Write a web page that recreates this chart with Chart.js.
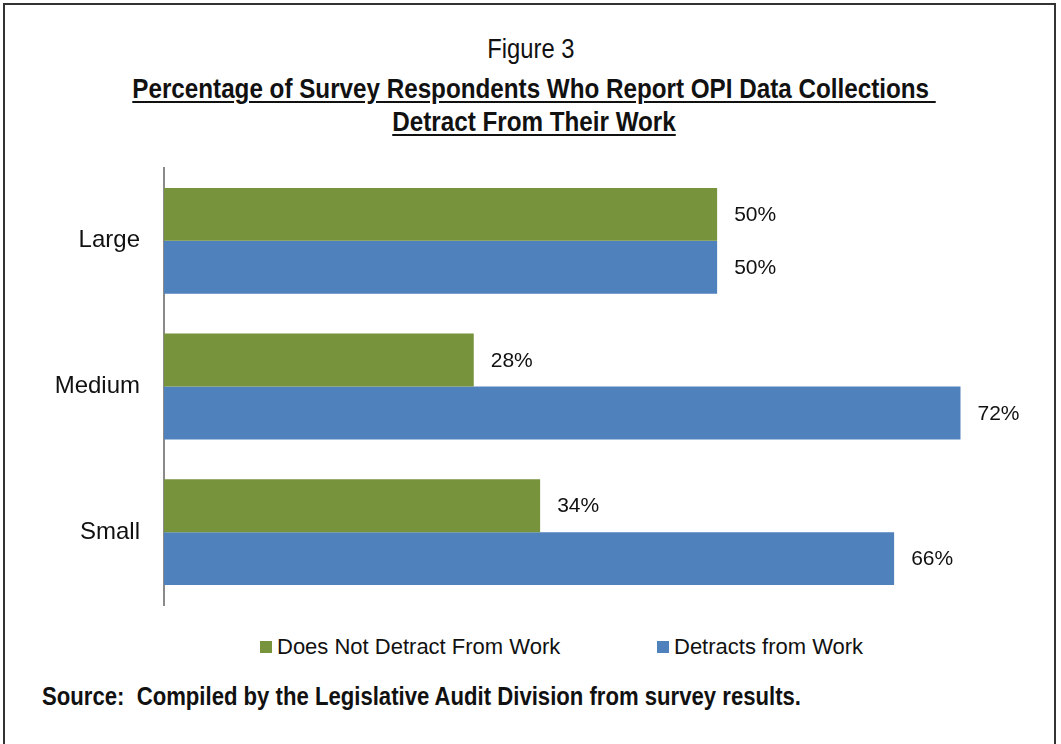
<!DOCTYPE html>
<html>
<head>
<meta charset="utf-8">
<script src="https://cdn.jsdelivr.net/npm/chart.js@4.4.1/dist/chart.umd.min.js"></script>
<style>
  html, body { margin: 0; padding: 0; background: #fff; overflow: hidden; }
  body { width: 1061px; height: 744px; position: relative; font-family: 'Liberation Sans', Arial, sans-serif; }
  .frame { position: absolute; left: 3px; top: 3px; width: 1053px; height: 760px; border: 2px solid #333; box-sizing: border-box; }
  .fig { position: absolute; left: 0; width: 1061px; top: 34px; text-align: center; font-size: 27px; color: #111; line-height: 30px;
         transform: scaleX(0.88); transform-origin: 534px 0; }
  .ttl { position: absolute; left: 0; width: 1068px; top: 72px; text-align: center; font-weight: bold; font-size: 28px;
         color: #111; line-height: 33px; text-decoration: underline; text-underline-offset: 3px;
         transform: scaleX(0.865); transform-origin: 534px 0; }
  .chart-box { position: absolute; left: 0; top: 150px; width: 1061px; height: 470px; }
  .legend { position: absolute; top: 633px; left: 0; width: 1061px; height: 30px; }
  .legend .item { position: absolute; top: 0; display: flex; align-items: center; font-size: 22px; color: #111; line-height: 28px; white-space: nowrap; }
  .legend .box { width: 12px; height: 12px; margin-right: 5px; }
  .source { position: absolute; left: 42px; top: 682px; font-weight: bold; font-size: 25px; color: #111; white-space: pre;
            transform: scaleX(0.885); transform-origin: 0 0; }
</style>
</head>
<body>
<div class="frame"></div>
<div class="fig">Figure 3</div>
<div class="ttl">Percentage of Survey Respondents Who Report OPI Data Collections&nbsp;<br>Detract From Their Work</div>
<div class="chart-box"><canvas id="grafica" width="1061" height="470"></canvas></div>
<div class="legend" id="leyenda"></div>
<div class="source">Source:  Compiled by the Legislative Audit Division from survey results.</div>

<script>
/* ---------- datos ---------- */
const categorias = ['Large', 'Medium', 'Small'];
const noDetrae = [50, 28, 34];
const detrae = [50, 72, 66];
const nombresSeries = ['Does Not Detract From Work', 'Detracts from Work'];
const coloresSeries = ['#77933C', '#4F81BD'];

/* ---------- etiquetas de valor al final de cada barra ---------- */
const etiquetasValor = {
  id: 'etiquetasValor',
  afterDatasetsDraw(chart) {
    const ctx = chart.ctx;
    ctx.save();
    ctx.font = '21px "Liberation Sans", Arial, sans-serif';
    ctx.fillStyle = '#111';
    ctx.textAlign = 'left';
    ctx.textBaseline = 'middle';
    chart.data.datasets.forEach((ds, i) => {
      chart.getDatasetMeta(i).data.forEach((bar, j) => {
        ctx.fillText(ds.data[j] + '%', bar.x + 17, bar.y + 1);
      });
    });
    ctx.restore();
  }
};

const chart = new Chart(document.getElementById('grafica'), {
  type: 'bar',
  data: {
    labels: categorias,
    datasets: [
      { label: nombresSeries[0], data: noDetrae, backgroundColor: coloresSeries[0] },
      { label: nombresSeries[1], data: detrae, backgroundColor: coloresSeries[1] },
    ],
  },
  options: {
    indexAxis: 'y',
    responsive: false,
    animation: false,
    categoryPercentage: 0.727,
    barPercentage: 1.0,
    layout: { padding: { top: 18, bottom: 15, left: 0, right: 12 } },
    plugins: {
      legend: { display: false },
      tooltip: { enabled: false },
    },
    scales: {
      x: { display: false, min: 0, max: 80 },
      y: {
        grid: { display: false, drawTicks: false },
        border: { display: true, color: '#8a8a8a', width: 2 },
        ticks: { color: '#111', padding: 24, font: { size: 24, family: '"Liberation Sans", Arial, sans-serif' } },
        afterFit(axis) {
          axis.width = 164;
          axis.paddingTop = 0;
          axis.paddingBottom = 0;
        },
      },
    },
  },
  plugins: [etiquetasValor],
});

/* ---------- leyenda ---------- */
const leyenda = document.getElementById('leyenda');
const posLeyenda = [260, 657];
chart.data.datasets.forEach((ds, i) => {
  const item = document.createElement('div');
  item.className = 'item';
  item.style.left = posLeyenda[i] + 'px';
  item.innerHTML = `<span class="box" style="background:${ds.backgroundColor}"></span><span>${ds.label}</span>`;
  leyenda.appendChild(item);
});
</script>
</body>
</html>
